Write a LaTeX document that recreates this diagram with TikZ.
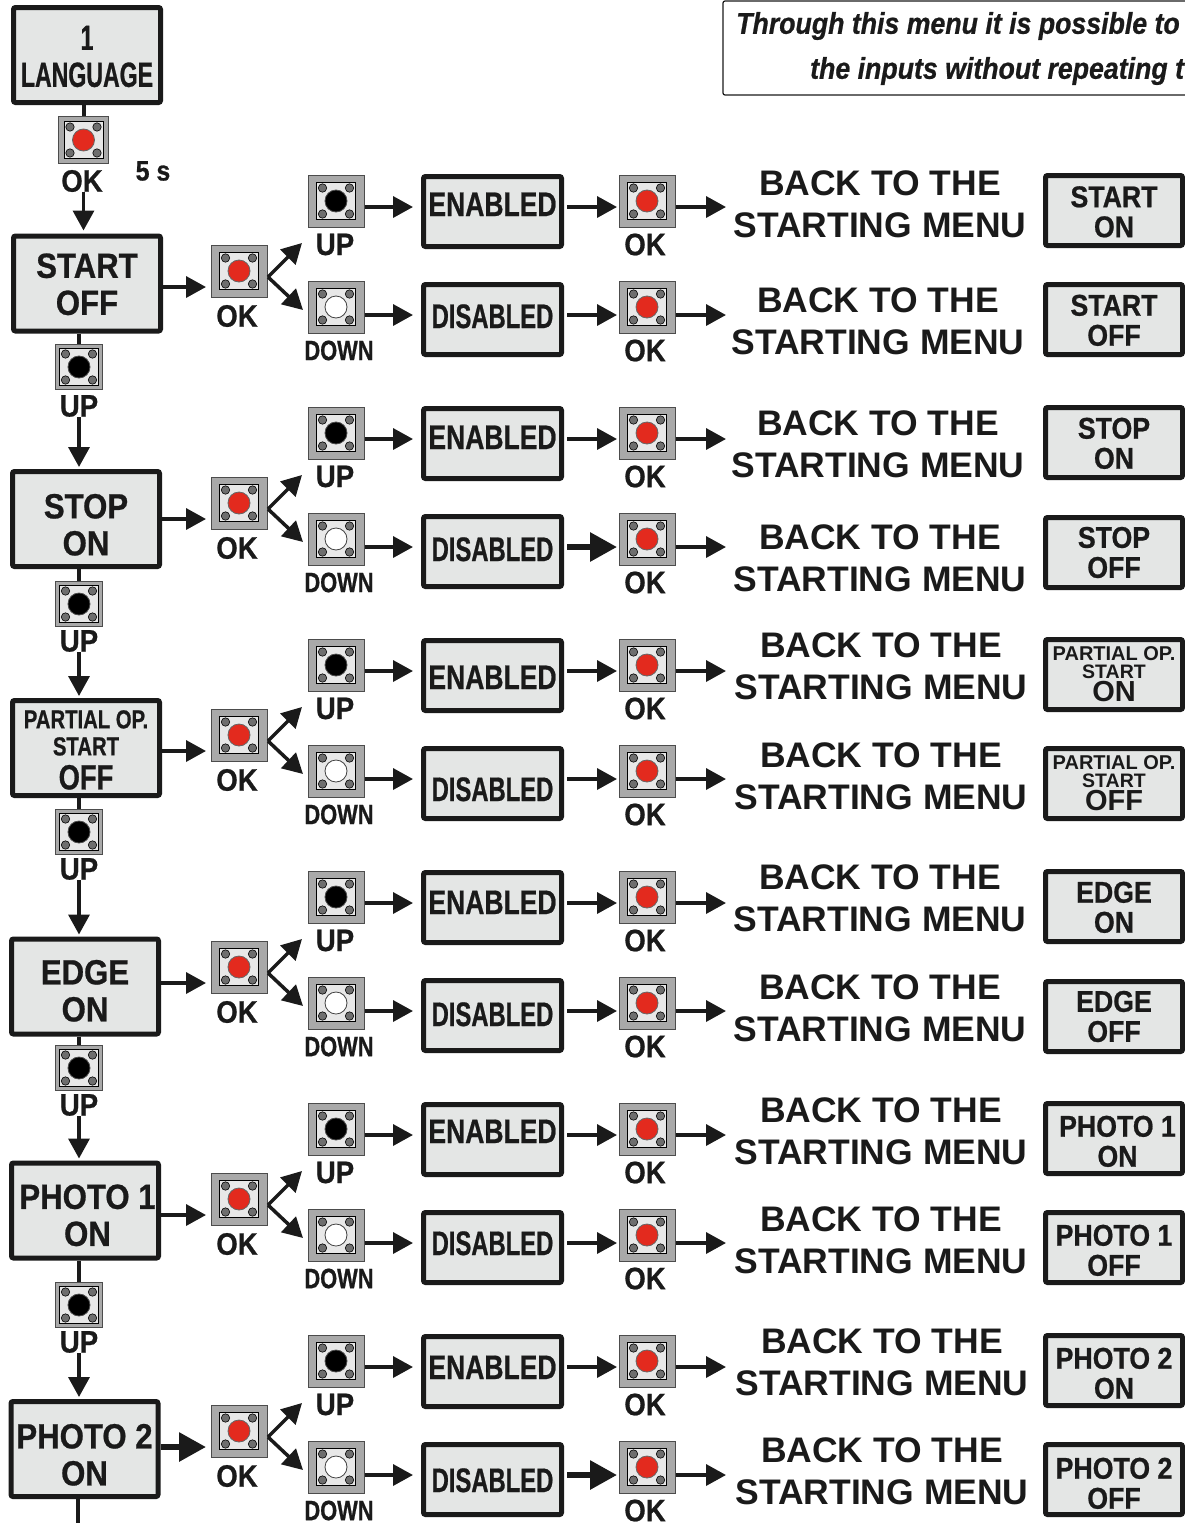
\documentclass[tikz,border=0pt]{standalone}
\usepackage{fontspec}
\usepackage{xcolor}
\usepackage{tikz}
\usetikzlibrary{arrows.meta,calc}
\setmainfont{Liberation Sans}
\newfontfamily\condfont[FakeStretch=0.89,FakeBold=0.7]{Liberation Sans}
\newfontfamily\midfont[FakeStretch=0.78,FakeBold=0.7]{Liberation Sans}
\newfontfamily\tightfont[FakeStretch=0.70,FakeBold=0.7]{Liberation Sans}
\newfontfamily\langfont[FakeStretch=0.66,FakeBold=0.7]{Liberation Sans}
\definecolor{inkblack}{HTML}{1A1A1A}
\definecolor{panelgrey}{HTML}{E4E6E5}
\definecolor{btngrey}{HTML}{A9A9A9}
\definecolor{btnface}{HTML}{E8E8E8}
\definecolor{screwgrey}{HTML}{6E6E6E}
\definecolor{capred}{HTML}{E32A1E}
\newcommand{\enword}[1]{\raisebox{\dimexpr-12pt-#1pt\relax}[0pt][0pt]{\midfont ENABLED}}
\newcommand{\disword}[1]{\raisebox{\dimexpr-12pt-#1pt\relax}[0pt][0pt]{\tightfont DISABLED}}
\newcommand{\dropby}[1]{\rule{0pt}{\dimexpr\fontcharht\font`S+#1pt*2\relax}}
\newcommand{\partword}[1]{{\rmfamily\fontsize{20}{18}\selectfont PARTIAL OP.}\\[-12pt]{\rmfamily\fontsize{19.5}{18}\selectfont START}\\[-7pt]{\rmfamily\fontsize{29}{20}\selectfont #1}}
\tikzset{
  btnbase/.style n args={3}{draw=black!70,line width=1pt,fill=btngrey,minimum width={56pt*#2},minimum height={52pt*#2},
    path picture={\begin{scope}[shift={(path picture bounding box.center)},scale=#2]
      \filldraw[fill=btnface,draw=black,line width=.6pt] (-19.5,-18.5) rectangle (19.5,18.5);
      \foreach \sx/\sy in {-13.5/-13,13.5/-13,-13.5/13,13.5/13}
        \filldraw[fill=screwgrey,draw=black,line width=.6pt] (\sx,\sy) circle (4.2);
      \filldraw[fill=#1,draw=#3,line width=.8pt] (0,0) circle (11);
    \end{scope}}},
  okbtn/.style={btnbase={capred}{#1}{black!60}},
  upbtn/.style={btnbase={black}{#1}{black!70}},
  downbtn/.style={btnbase={white}{#1}{black!75}}
}
\begin{document}
\begin{tikzpicture}[x=1pt,y=-1pt,every node/.style={inner sep=0pt,text=inkblack},
  menubox/.style={draw=inkblack,line width=5pt,fill=panelgrey,rounded corners=2pt,minimum width=147pt,minimum height=95pt,align=center,font=\condfont\bfseries\fontsize{35}{37}\selectfont},
  optbox/.style={draw=inkblack,line width=5pt,fill=panelgrey,rounded corners=2pt,minimum width=138pt,minimum height=70pt,align=center,font=\bfseries\fontsize{34}{36}\selectfont},
  endbox/.style={draw=inkblack,line width=5pt,fill=panelgrey,rounded corners=2pt,minimum width=137pt,minimum height=70pt,align=center,font=\condfont\bfseries\fontsize{30}{30}\selectfont},
  btnlabel/.style={font=\condfont\bfseries\fontsize{31}{31}\selectfont},
  backlabel/.style={align=center,font=\bfseries\fontsize{35.5}{42}\selectfont},
  notelabel/.style={anchor=west,font=\condfont\bfseries\itshape\fontsize{30}{30}\selectfont},
  arr/.style={-{Triangle[length=20pt,width=21pt]},line width=3.5pt,draw=inkblack},
  bigarr/.style={-{Triangle[length=27pt,width=28pt]},line width=6pt,draw=inkblack},
  stub/.style={line width=4pt,draw=inkblack}]
\useasboundingbox (0,0) rectangle (1185,1523);
% note at the top
\draw[line width=1.2pt,draw=inkblack,rounded corners=2pt] (1185,1) -| (723,95) -- (1185,95);
\node[notelabel] (note1) at (736,26) {Through this menu it is possible to};
\node[notelabel] (note2) at (810,71) {the inputs without repeating t};
% left column
\node[menubox] (lang) at (87,55) {\dropby{1.5}{\langfont 1}\\{\langfont LANGUAGE}};
\node[okbtn=0.91] (langok) at (83.5,140) {};
\node[btnlabel] (langlab) at (82,181) {OK};
\node[font=\condfont\bfseries\fontsize{28}{28}\selectfont] (secs) at (153,171) {5 s};
\node[menubox] (menu0) at (87,283.5) {\dropby{1}START\\OFF};
\node[menubox] (menu1) at (86,519) {\dropby{6}STOP\\ON};
\node[menubox] (menu2) at (86,748) {\dropby{-1}{\midfont\fontsize{26}{27}\selectfont PARTIAL OP.}\\[-10pt]{\midfont\fontsize{26}{27}\selectfont START}\\[-3pt]{\midfont\fontsize{35}{30}\selectfont OFF}};
\node[menubox] (menu3) at (85,986.5) {\dropby{4.5}EDGE\\ON};
\node[menubox] (menu4) at (85,1210.5) {\dropby{5}\hspace*{5pt}PHOTO 1\\\hspace*{5pt}ON};
\node[menubox] (menu5) at (84.5,1449) {\dropby{6}PHOTO 2\\ON};
\coordinate (tail) at (78,1523);
\draw[stub] (langok.north |- lang.south) -- (langok.north);
\draw[arr,shorten >=3pt] (langlab.south -| langok.south) -- (langok.south |- menu0.north);
\draw[stub] (tail |- menu5.south) -- (tail);
\foreach \k/\nxt/\by/\ly in {0/1/367/406,1/2/604/641,2/3/832/869,3/4/1068/1105,4/5/1305/1342}{
  \node[upbtn=0.85] (upkey\k) at (79,\by) {};
  \node[btnlabel] (uplab\k) at (79,\ly) {UP};
  \draw[stub] (upkey\k.north |- menu\k.south) -- (upkey\k.north);
  \draw[arr,shorten >=2pt] (uplab\k.south) -- (uplab\k.south |- menu\nxt.north);
}
% OK key of each row with its fork
\foreach \k/\w in {0/arr,1/arr,2/arr,3/arr,4/arr,5/bigarr}{
  \pgfmathtruncatemacro{\y}{271+232*\k}
  \node[okbtn=1] (ok\k) at (239,\y) {};
  \node[btnlabel] (oklab\k) at (237,\y+45) {OK};
  \coordinate (in\k) at (206,\y+16);
  \coordinate (fork\k) at (268,\y+6);
  \coordinate (forkup\k) at (302,\y-28);
  \coordinate (forkdn\k) at (303,\y+39);
  \draw[\w] (in\k -| menu\k.east) -- (in\k);
  \draw[arr] (fork\k) -- (forkup\k);
  \draw[arr] (fork\k) -- (forkdn\k);
}
% one line per option
\foreach \n/\key/\lab/\lx/\y/\ay/\word/\w/\bx/\bc/\ry/\rlab in {
  a0/upbtn/UP/335/201/207/{\enword{-7.5}}/arr/880/204.5/210.5/{\dropby{1.5}START\\ON},
  b0/downbtn/{\fontsize{28}{28}\selectfont\midfont DOWN}/339/307/315/{\disword{-3.5}}/arr/878/321.5/319.5/{\dropby{1}START\\OFF},
  a1/upbtn/UP/335/433/439/{\enword{-6.5}}/arr/878/444/442.5/{\dropby{1}STOP\\ON},
  b1/downbtn/{\fontsize{28}{28}\selectfont\midfont DOWN}/339/539/547/{\disword{-2.5}}/bigarr/880/558/552.5/{STOP\\OFF},
  a2/upbtn/UP/335/665/671/{\enword{1.5}}/arr/881/666.5/674.5/{\partword{ON}},
  b2/downbtn/{\fontsize{28}{28}\selectfont\midfont DOWN}/339/771/779/{\disword{5.5}}/arr/881/776/783.5/{\partword{OFF}},
  a3/upbtn/UP/335/897/903/{\enword{-5.5}}/arr/880/898.5/906.5/{\dropby{1}EDGE\\ON},
  b3/downbtn/{\fontsize{28}{28}\selectfont\midfont DOWN}/339/1003/1011/{\disword{-1.5}}/arr/880/1008/1016.5/{EDGE\\OFF},
  a4/upbtn/UP/335/1129/1135/{\enword{-8.5}}/arr/881/1131/1138.5/{\dropby{3}\hspace*{7pt}PHOTO 1\\\hspace*{7pt}ON},
  b4/downbtn/{\fontsize{28}{28}\selectfont\midfont DOWN}/339/1235/1243/{\disword{-4.5}}/arr/881/1240.5/1247.5/{\dropby{3}PHOTO 1\\OFF},
  a5/upbtn/UP/335/1361/1367/{\enword{-4.5}}/arr/882/1362/1370.5/{\dropby{3}PHOTO 2\\ON},
  b5/downbtn/{\fontsize{28}{28}\selectfont\midfont DOWN}/339/1467/1475/{\disword{0.5}}/bigarr/882/1471/1479.5/{\dropby{4}PHOTO 2\\OFF}}{
  \node[\key=1] (key\n) at (336,\y) {};
  \node[btnlabel] (keylab\n) at (\lx,\y+43.5) {\lab};
  \node[optbox] (opt\n) at (492.5,\ay+4.5) {\word};
  \node[okbtn=1] (conf\n) at (647,\y) {};
  \node[btnlabel] (conflab\n) at (645,\y+43.5) {OK};
  \node[backlabel] (back\n) at (\bx,\bc) {BACK TO THE\\STARTING MENU};
  \node[endbox] (end\n) at (1114,\ry) {\rlab};
  \coordinate (a\n) at (413,\ay);
  \coordinate (b\n) at (617,\ay);
  \coordinate (c\n) at (726,\ay);
  \draw[arr] (a\n -| key\n.east) -- (a\n);
  \draw[\w,shorten <=3pt] (b\n -| opt\n.east) -- (b\n);
  \draw[arr] (c\n -| conf\n.east) -- (c\n);
}
\end{tikzpicture}
\end{document}
